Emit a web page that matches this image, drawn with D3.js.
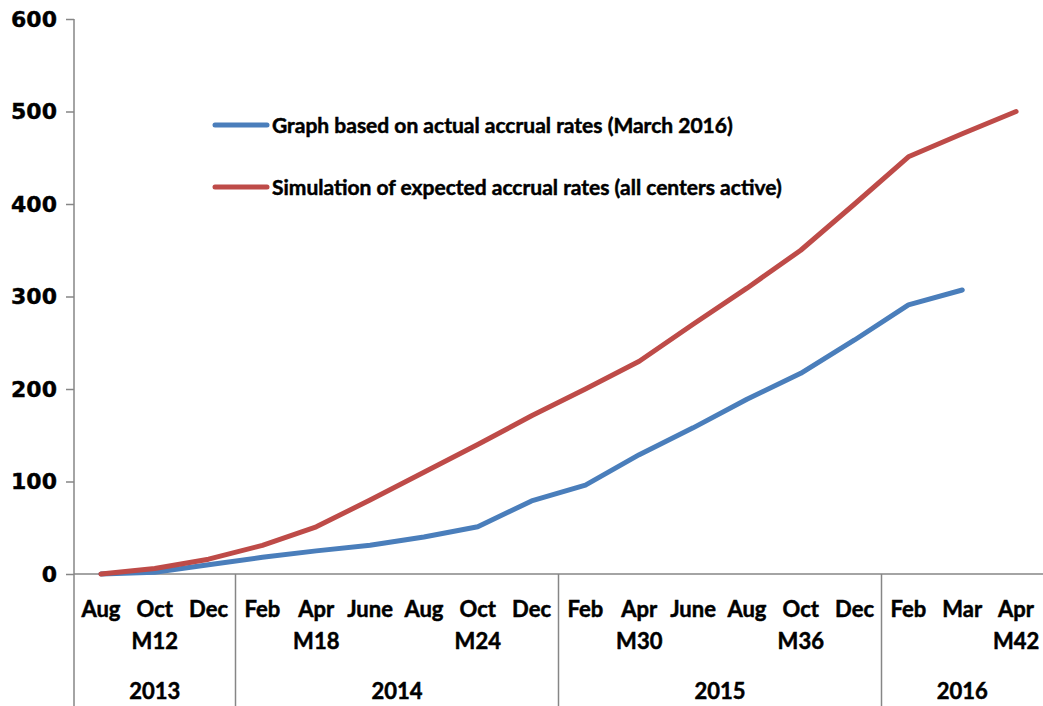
<!DOCTYPE html>
<html>
<head>
<meta charset="utf-8">
<script src="https://cdn.jsdelivr.net/npm/d3@7"></script>
<style>
  html, body { margin: 0; padding: 0; background: #fff; }
  svg { display: block; }
</style>
</head>
<body>
<svg id="chart" width="1043" height="706"></svg>
<script>
// ---- Data ----
const months = ["Aug","Oct","Dec","Feb","Apr","June","Aug","Oct","Dec","Feb","Apr","June","Aug","Oct","Dec","Feb","Mar","Apr"];
const milestoneLabels = ["","M12","","","M18","","","M24","","","M30","","","M36","","","","M42"];
const years = ["2013","2014","2015","2016"];
const yearCounts = [3, 6, 6, 3];
const actual = [0, 2, 10, 18, 25, 31, 40, 51, 79, 96, 129, 158, 189, 217, 253, 291, 307, null];
const simulated = [0, 6, 16, 31, 51, 80, 110, 140, 171, 200, 230, 270, 309, 350, 400, 451, 476, 500];
const yTicks = [0, 100, 200, 300, 400, 500, 600];
const seriesNames = ["Graph based on actual accrual rates (March 2016)", "Simulation of expected accrual rates (all centers active)"];
const seriesColors = ["#4a7ebb", "#be4b48"];

// ---- Layout ----
const svg = d3.select("#chart");
const mLeft = 74, mRight = 1043, mTop = 19, mBottom = 574;
const axisColor = "#868686";

const x = d3.scaleBand().domain(d3.range(months.length)).range([mLeft, mRight]).padding(0);
const cx = i => x(i) + x.bandwidth() / 2;
const y = d3.scaleLinear().domain([0, 600]).range([mBottom, mTop]);

// Y axis
const yAxis = d3.axisLeft(y).tickValues(yTicks).tickSize(8).tickPadding(9);
const gy = svg.append("g").attr("transform", `translate(${mLeft},0)`).call(yAxis);
gy.select(".domain").remove();
gy.selectAll(".tick line").attr("stroke", axisColor).attr("stroke-width", 1.5);
gy.selectAll(".tick text")
  .attr("font-family", "DejaVu Sans, Verdana, sans-serif")
  .attr("font-weight", "bold")
  .attr("font-size", 22)
  .attr("fill", "#000")
  .attr("stroke", "#000").attr("stroke-width", 0.4);

// y axis line extended to bottom
svg.append("line").attr("x1", mLeft).attr("x2", mLeft).attr("y1", mTop).attr("y2", 706)
  .attr("stroke", axisColor).attr("stroke-width", 1.5);

// X axis line
svg.append("line").attr("x1", mLeft).attr("x2", mRight).attr("y1", mBottom).attr("y2", mBottom)
  .attr("stroke", axisColor).attr("stroke-width", 1.5);

// Year group separators
let cum = 0;
const yearGroups = years.map((yr, k) => {
  const start = cum; cum += yearCounts[k];
  return { yr, start, end: cum };
});
yearGroups.forEach(g => {
  if (g.start > 0) {
    svg.append("line").attr("x1", x(g.start)).attr("x2", x(g.start))
      .attr("y1", mBottom).attr("y2", 706)
      .attr("stroke", axisColor).attr("stroke-width", 1.5);
  }
});

const labelFont = "Lato, 'Open Sans', sans-serif";
function styleLabel(sel, size) {
  sel.attr("font-family", labelFont).attr("font-weight", "bold").attr("font-size", size)
    .attr("fill", "#000").attr("stroke", "#000").attr("stroke-width", 0.5);
}
// Month labels
svg.append("g").selectAll("text").data(months).join("text")
  .attr("x", (d, i) => cx(i)).attr("y", 617)
  .attr("text-anchor", "middle")
  .call(styleLabel, 22).text(d => d);

// Milestone labels
svg.append("g").selectAll("text").data(milestoneLabels).join("text")
  .attr("x", (d, i) => cx(i)).attr("y", 649)
  .attr("text-anchor", "middle")
  .call(styleLabel, 22).text(d => d);

// Year labels
svg.append("g").selectAll("text").data(yearGroups).join("text")
  .attr("x", d => (x(d.start) + (d.end >= months.length ? mRight : x(d.end))) / 2).attr("y", 699)
  .attr("text-anchor", "middle")
  .call(styleLabel, 22).text(d => d.yr);

// Lines
const line = d3.line().defined(d => d != null).x((d, i) => cx(i)).y(d => y(d));
[actual, simulated].forEach((s, k) => {
  svg.append("path").datum(s)
    .attr("fill", "none").attr("stroke", seriesColors[k]).attr("stroke-width", 5)
    .attr("stroke-linecap", "round").attr("stroke-linejoin", "round")
    .attr("d", line);
});

// Legend
const legendY = [125, 187];
seriesNames.forEach((name, k) => {
  svg.append("line").attr("x1", 215).attr("x2", 267).attr("y1", legendY[k]).attr("y2", legendY[k])
    .attr("stroke", seriesColors[k]).attr("stroke-width", 5).attr("stroke-linecap", "round");
  svg.append("text").attr("x", 272).attr("y", legendY[k] + 8)
    .call(styleLabel, 21).text(name);
});
</script>
</body>
</html>
